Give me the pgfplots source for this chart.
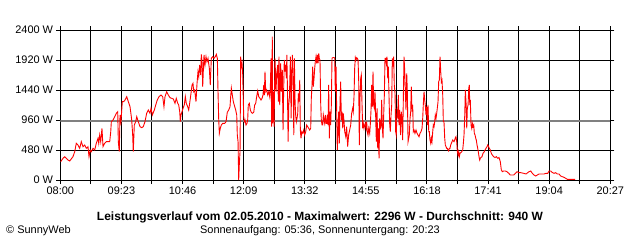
\documentclass[border=0pt]{standalone}
\usepackage{pgfplots}
\pgfplotsset{compat=1.18}
\usepackage{fontspec}
\setmainfont{Liberation Sans}
\definecolor{avggray}{RGB}{128,128,128}
\pgfplotstableread{
x y
0.5 293
3.7 347
6.0 373
10.5 320
12.8 304
17.2 373
19.6 453
21.7 587
24.0 560
26.3 507
28.5 613
30.8 533
33.1 560
35.3 507
37.6 533
39.0 373
40.7 480
42.1 453
44.4 507
46.7 480
48.9 587
51.2 667
52.2 587
53.5 720
54.9 613
56.6 827
58.0 533
60.3 587
62.5 613
64.8 613
67.1 613
68.5 773
69.3 933
71.6 960
73.9 1013
76.1 1067
78.0 1093
78.8 613
80.1 453
81.1 1040
82.4 933
84.2 1253
86.1 1253
87.9 1280
90.2 1333
92.4 1253
94.7 1173
97.0 960
98.3 720
99.1 453
100.5 880
102.4 933
103.8 1013
105.9 933
108.3 853
110.6 837
112.7 853
115.0 933
117.3 1067
119.5 1120
121.8 1067
123.2 1147
125.0 1040
127.7 1120
129.6 1200
131.7 1280
134.1 1333
136.8 1360
139.1 1333
140.8 1173
142.2 1333
144.5 1413
146.7 1360
149.0 1317
151.3 1307
153.5 1296
155.8 1227
157.5 1307
159.5 1227
160.8 1200
162.2 1093
163.0 933
163.9 1040
165.3 1093
166.7 1147
168.4 1200
169.8 1333
171.1 1227
173.0 1173
174.4 1120
175.7 1227
177.5 1387
178.9 1520
180.2 1547
181.2 1413
182.5 1440
184.3 1253
185.7 1547
187.0 1733
188.0 1653
189.3 1840
190.7 1680
191.5 2011
192.5 1893
193.4 1493
194.2 1733
195.2 2000
196.5 1840
197.9 1973
199.2 1893
200.6 1947
202.4 1787
203.7 1520
205.1 1947
207.0 1973
208.8 1947
210.5 1973
211.9 2011
213.3 1947
214.2 1413
215.1 987
216.0 747
217.3 827
218.7 880
220.6 907
223.3 907
225.1 933
226.8 1083
228.7 1120
230.5 1173
231.4 1333
232.3 1467
233.6 1360
235.0 1253
236.9 1173
238.2 1120
239.6 1040
240.4 720
241.4 613
242.3 0
243.1 240
244.1 453
245.0 1973
245.8 1787
246.8 1867
247.7 1707
249.1 1013
249.9 933
250.9 960
252.2 880
253.6 907
254.5 960
255.3 1200
256.7 1227
258.1 1120
259.4 1083
260.8 1067
262.7 1083
264.0 1200
265.4 1227
266.7 1333
268.1 1424
269.5 1333
271.2 1307
272.6 1280
274.0 1307
275.3 1360
276.3 1520
277.1 1360
278.0 1733
279.0 1413
280.3 1440
281.7 1360
283.1 1413
284.4 1333
285.2 1440
286.2 1947
287.1 853
287.9 2293
288.5 907
289.3 1413
290.3 853
291.6 1947
293.0 1413
293.9 1707
295.3 1840
296.1 1253
297.0 1973
298.0 1200
299.3 1867
300.2 1413
301.5 1760
302.5 800
303.4 1467
304.2 1920
305.2 1733
306.1 1840
307.0 1627
307.7 2000
308.4 1520
309.4 613
310.3 1200
311.2 1333
312.5 1973
313.5 987
314.4 1733
315.2 2000
316.2 1627
317.1 720
317.9 1947
318.9 1227
319.8 1013
320.6 933
321.5 987
322.5 1067
323.3 1387
324.2 1253
325.2 1600
326.0 800
326.9 667
327.9 773
329.2 747
330.6 800
331.9 720
333.3 773
334.6 880
336.0 853
337.4 827
338.7 800
340.1 827
340.9 1307
341.9 1520
342.8 1813
343.6 1493
344.6 1627
345.5 1787
346.3 1893
347.3 1973
348.2 1867
349.1 2000
350.0 1867
351.0 2027
351.8 1947
352.7 1920
353.7 1200
354.5 960
355.5 880
356.4 880
357.2 1040
358.2 960
359.1 907
359.9 1040
360.9 907
361.8 907
362.6 1040
363.6 880
364.5 1520
365.4 667
366.3 1093
367.2 880
368.1 1200
369.0 1947
370.4 1960
371.7 1960
372.7 1947
373.5 1413
374.5 1813
375.4 1093
376.2 480
377.2 773
378.1 1093
379.0 587
379.9 1253
380.8 1573
381.7 960
382.6 1093
383.6 827
384.3 1067
385.4 933
386.3 773
387.7 693
388.9 853
390.3 533
391.6 720
393.0 800
394.4 880
395.7 1067
397.1 1147
397.9 1093
398.9 1333
399.8 1787
400.7 1957
401.6 1920
402.6 1957
403.4 1947
404.4 1920
405.3 1573
406.1 560
407.1 1333
408.0 1627
408.8 1680
409.8 1200
410.7 827
411.5 907
412.5 827
413.4 880
414.2 907
415.2 827
416.1 933
416.9 773
417.9 720
418.9 827
420.2 747
421.0 880
422.0 1120
422.9 1520
423.8 1173
424.7 1733
425.6 1200
426.5 1147
427.4 1413
428.4 987
429.2 613
430.2 1147
431.1 507
431.9 827
432.9 347
433.8 987
434.7 827
435.6 853
436.5 1280
437.4 827
438.3 667
439.2 1040
440.1 1360
441.0 1947
441.9 1947
442.8 1867
443.7 1973
444.7 1627
445.5 1813
446.5 1307
447.4 880
448.2 773
449.2 1040
450.1 1200
450.9 1947
451.9 1813
452.8 1973
453.6 1520
454.6 1387
455.5 773
456.3 720
457.3 1093
458.2 1040
459.1 1360
460.0 880
460.9 1120
462.1 720
463.1 1093
464.1 987
465.0 640
465.9 1307
466.8 1973
467.8 1733
468.6 1413
469.5 1120
470.5 1707
471.3 1413
472.3 613
473.2 667
474.0 720
475.0 987
475.9 1093
476.7 1493
477.7 1093
478.6 1200
479.4 773
480.4 800
481.7 747
483.1 800
484.5 747
485.8 720
487.2 693
488.5 747
489.9 773
491.3 827
492.2 987
493.0 1200
494.0 1413
494.9 1280
495.7 1200
496.7 1040
497.6 1173
498.5 880
499.4 1200
500.4 773
501.2 773
502.1 640
503.1 587
503.9 667
504.8 613
505.8 773
506.6 880
507.6 853
508.5 933
509.3 1040
510.3 987
511.2 1067
512.0 1147
513.0 1253
513.9 1573
514.8 1600
515.7 1973
516.7 1733
517.5 1573
518.4 1600
519.4 1360
520.2 933
521.1 933
522.1 667
522.9 560
523.9 533
524.8 507
525.6 507
526.6 480
527.5 464
528.3 507
529.3 507
530.2 560
531.1 587
532.0 613
533.0 640
533.8 627
534.7 613
535.7 640
536.5 677
537.4 693
538.4 613
539.2 464
540.2 400
541.1 453
541.9 373
542.9 427
545.2 453
546.5 480
547.4 587
548.3 720
549.3 1040
550.1 1440
551.1 1227
552.0 827
552.8 1147
553.8 1200
554.7 1467
555.5 1520
556.1 1200
556.9 1280
557.8 880
558.8 827
559.6 907
560.5 853
561.5 880
562.3 747
563.3 720
564.2 667
565.0 640
566.0 560
566.9 507
567.7 453
568.7 373
569.6 320
570.4 347
571.4 360
572.7 373
574.1 427
575.4 443
576.8 480
578.2 507
579.5 533
580.5 560
581.8 533
582.7 507
584.0 480
585.4 427
586.7 400
588.6 373
590.4 360
592.2 373
594.1 347
595.8 360
597.6 293
599.0 160
600.3 133
602.2 144
604.4 144
606.7 133
609.0 107
611.2 80
613.5 80
615.8 80
618.0 107
620.3 133
622.8 117
625.5 117
629.3 107
632.5 96
636.6 133
638.9 144
641.1 107
643.4 80
645.7 64
647.9 80
650.2 96
652.9 96
657.0 96
659.7 107
662.0 107
663.8 144
666.1 144
668.2 120
670.5 107
672.8 117
675.0 96
677.3 96
679.6 64
681.8 53
684.1 43
686.4 27
688.6 11
692.3 11
699.1 11
}\power

\begin{document}
\begin{tikzpicture}[x=1bp,y=1bp]
\begin{axis}[
  at={(60.3bp,60bp)}, anchor=south west,
  scale only axis, width=550bp, height=150bp,
  xmin=0, xmax=747, ymin=0, ymax=2400,
  xtick={0,41.5,83,124.5,166,207.5,249,290.5,332,373.5,415,456.5,498,539.5,581,622.5,664,705.5,747},
  xticklabels={08:00,,09:23,,10:46,,12:09,,13:32,,14:55,,16:18,,17:41,,19:04,,20:27},
  ytick={0,480,960,1440,1920,2400},
  yticklabels={0 W,480 W,960 W,1440 W,1920 W,2400 W},
  grid=major,
  major grid style={black, line width=1bp},
  axis line style={black, line width=1bp},
  tick style={black, line width=1bp},
  tick align=outside,
  major tick length=4bp,
  tick label style={font=\fontsize{11}{13}\selectfont},
  xticklabel style={inner sep=0pt, yshift=-3bp},
  yticklabel style={inner sep=0pt, xshift=-3bp},
]
\addplot[avggray, line width=2bp, forget plot] coordinates {(0,940) (747,940)};
\addplot[red, line width=0.9bp, line join=miter] table[x=x, y=y] {\power};
\end{axis}
\node[anchor=base, font=\fontsize{12}{14}\selectfont\bfseries] at (320,19.3) {Leistungsverlauf vom 02.05.2010 - Maximalwert: 2296 W - Durchschnitt: 940 W};
\node[anchor=base, font=\fontsize{11}{13}\selectfont] at (320,7) {Sonnenaufgang: 05:36, Sonnenuntergang: 20:23};
\node[anchor=base west, inner sep=0pt, font=\fontsize{11}{13}\selectfont] at (6,7) {© SunnyWeb};
\pgfresetboundingbox
\path[use as bounding box] (0,0) rectangle (640,240);
\end{tikzpicture}
\end{document}
